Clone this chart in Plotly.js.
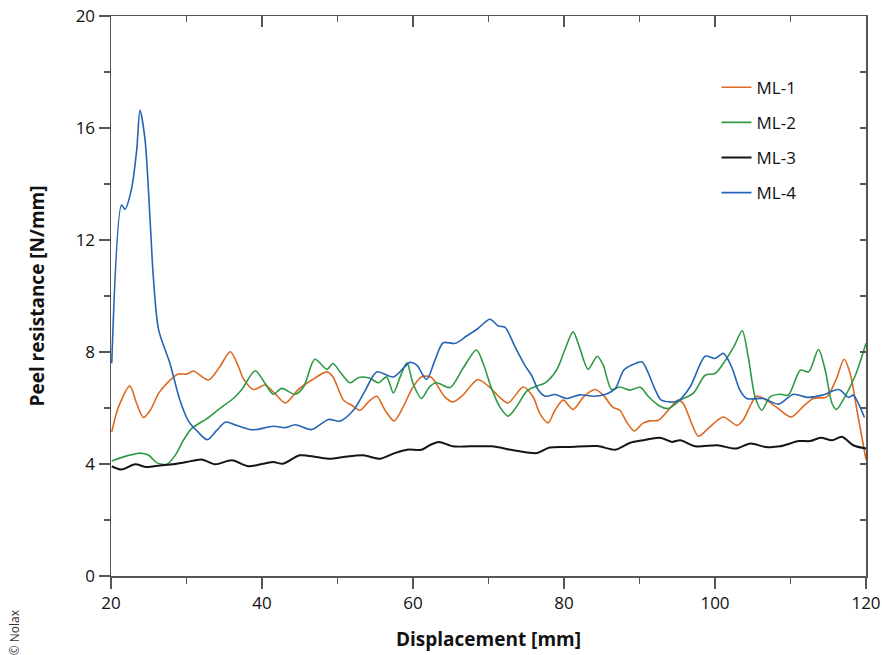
<!DOCTYPE html>
<html>
<head>
<meta charset="utf-8">
<script src="https://cdn.plot.ly/plotly-3.0.1.min.js"></script>
<style>html,body{margin:0;padding:0;background:#fff}#chart{width:882px;height:655px}</style>
</head>
<body>
<div id="chart"></div>
<script>
const ml1_x = [20.1,21.0,22.5,23.4,24.3,25.2,26.3,27.4,28.9,30.0,30.9,32.9,34.4,35.8,36.9,37.5,38.9,40.4,41.7,43.1,44.8,46.6,48.6,49.4,50.8,51.9,53.0,54.1,55.2,56.3,57.5,58.7,60.0,61.1,62.4,64.2,65.3,66.6,68.6,70.2,71.5,72.6,74.6,75.9,76.8,77.9,78.8,79.9,81.2,82.6,84.1,85.2,86.5,87.4,88.3,89.3,90.5,91.4,92.5,93.8,95.1,95.8,96.9,97.8,99.3,101.1,102.9,103.7,105.5,106.8,108.1,110.1,111.7,113.0,114.8,116.1,117.1,117.9,118.8,120];
const ml1_y = [5.15,6.04,6.78,6.16,5.66,5.92,6.52,6.88,7.21,7.21,7.32,7.0,7.47,8.01,7.47,7.06,6.66,6.82,6.52,6.18,6.66,7.0,7.29,7.11,6.28,6.1,5.92,6.22,6.42,5.92,5.54,6.04,6.75,7.11,7.10,6.4,6.22,6.46,7.02,6.73,6.38,6.18,6.75,6.4,5.8,5.47,5.92,6.28,5.95,6.4,6.66,6.46,6.02,5.92,5.5,5.18,5.47,5.54,5.56,5.92,6.28,6.16,5.45,4.99,5.32,5.68,5.38,5.56,6.42,6.28,6.04,5.68,6.06,6.34,6.4,7.06,7.74,7.23,5.92,4.16];

const ml2_x = [20.1,22.1,23.9,25.0,26.1,27.4,28.5,29.6,30.7,32.7,34.4,36.2,37.3,39.1,40.4,41.5,42.6,44.4,45.5,47.0,48.6,49.4,50.5,51.7,52.8,54.3,55.4,56.5,57.4,58.3,59.2,60.0,61.1,62.2,63.1,64.9,66.6,68.4,69.3,70.4,71.5,72.6,73.7,75.1,76.4,77.5,79.0,80.1,81.2,82.1,83.2,84.4,85.2,86.3,87.4,88.7,90.1,91.2,92.5,93.8,95.4,97.1,98.7,100.0,101.1,102.5,103.6,104.4,105.3,106.2,107.3,108.6,109.7,111.3,112.4,113.7,114.6,115.5,116.1,117.2,118.6,120];
const ml2_y = [4.11,4.29,4.39,4.31,4.04,3.99,4.31,4.85,5.27,5.62,5.98,6.34,6.65,7.33,6.88,6.49,6.7,6.49,6.75,7.74,7.38,7.59,7.23,6.9,7.09,7.06,6.9,7.11,6.54,7.11,7.61,6.88,6.34,6.76,6.9,6.73,7.41,8.07,7.59,6.7,6.04,5.71,6.04,6.61,6.78,6.9,7.35,8.07,8.72,8.13,7.38,7.85,7.53,6.66,6.75,6.64,6.74,6.4,6.1,5.98,6.28,6.52,7.17,7.23,7.59,8.19,8.76,7.83,6.4,5.92,6.4,6.49,6.46,7.35,7.29,8.09,7.35,6.16,5.95,6.4,7.17,8.31];

const ml3_x = [20.1,21.4,23.2,24.7,26.5,28.2,30.0,32.0,33.8,36.0,38.2,40.2,41.5,42.8,45.0,47.2,49.0,50.8,53.4,55.6,57.4,59.2,61.1,62.2,63.4,65.3,67.6,70.4,73.7,76.4,78.1,80.8,84.4,86.8,88.7,90.5,92.7,94.3,95.4,97.4,100.3,102.7,104.7,106.7,108.6,111.1,112.6,114.0,115.5,116.8,118.3,120];
const ml3_y = [3.92,3.8,3.99,3.89,3.95,3.99,4.07,4.16,3.99,4.13,3.92,4.01,4.07,4.01,4.31,4.25,4.19,4.25,4.31,4.19,4.37,4.51,4.51,4.67,4.79,4.63,4.63,4.63,4.47,4.39,4.59,4.61,4.64,4.51,4.75,4.85,4.94,4.79,4.85,4.63,4.67,4.55,4.73,4.61,4.63,4.82,4.82,4.94,4.85,4.97,4.67,4.55];

const ml4_x = [20.1,21.4,21.85,22.7,23.4,23.84,24.5,25.2,25.6,26.3,27.8,29.1,30.2,31.5,32.75,34.0,35.2,36.6,38.4,39.3,41.5,43.1,44.4,46.6,48.8,50.3,52.1,53.7,55.2,57.4,59.6,60.5,61.8,62.9,64.0,65.6,67.1,68.6,70.2,71.3,72.2,73.5,74.8,75.7,76.6,77.5,78.8,80.4,82.1,83.9,85.4,86.8,87.9,89.2,90.3,91.0,92.1,92.9,95.1,96.7,98.7,100.0,101.1,102.2,103.3,104.2,106.4,108.4,110.4,112.2,114.2,116.4,117.7,118.3,119.0,119.8];
const ml4_y = [7.6,13.25,13.1,13.8,15.2,16.63,15.6,12.6,10.7,8.8,7.6,6.3,5.56,5.15,4.87,5.2,5.5,5.38,5.23,5.23,5.35,5.3,5.4,5.23,5.59,5.53,5.92,6.64,7.29,7.11,7.63,7.53,7.02,7.7,8.33,8.31,8.57,8.84,9.17,8.93,8.88,8.19,7.53,7.17,6.64,6.42,6.48,6.34,6.47,6.42,6.48,6.7,7.35,7.56,7.65,7.35,6.64,6.28,6.25,6.75,7.85,7.77,7.95,7.47,6.64,6.34,6.34,6.14,6.49,6.38,6.46,6.66,6.38,6.46,6.16,5.66];

const seriesNames = ['ML-1','ML-2','ML-3','ML-4'];
const xTickVals = [20,40,60,80,100,120];
const yTickVals = [0,4,8,12,16,20];

const colors = ['#dd6a22','#2e9a45','#151515','#2563b5'];
const widths = [1.6,1.6,2.0,1.6];
const xs = [ml1_x, ml2_x, ml3_x, ml4_x];
const ys = [ml1_y, ml2_y, ml3_y, ml4_y];

const traces = seriesNames.map((n,i)=>({
  type:'scatter', mode:'lines', name:n, x:xs[i], y:ys[i],
  line:{color:colors[i], width:widths[i], shape:'spline', smoothing:0.8},
  legendgroup:'g'+i
}));
traces.push({type:'scatter', mode:'lines', x:[], y:[], xaxis:'x2', yaxis:'y2', showlegend:false, hoverinfo:'skip'});

const axColor = '#555555';
const fontFam = '"Open Sans", "Noto Sans", sans-serif';

const layout = {
  width:882, height:655,
  margin:{l:111, r:16, t:16, b:79},
  paper_bgcolor:'#ffffff', plot_bgcolor:'#ffffff',
  font:{family:fontFam, size:17, color:'#111'},
  showlegend:true,
  legend:{x:0.802, y:0.904, xanchor:'left', yanchor:'top', bgcolor:'rgba(0,0,0,0)',
          font:{family:fontFam, size:17, color:'#111'}, tracegroupgap:10, itemwidth:30},
  xaxis:{range:[20,120], tickvals:xTickVals, ticks:'outside', ticklen:11, tickwidth:1.3, tickcolor:axColor,
         showline:true, linecolor:axColor, linewidth:1.5, showgrid:false, zeroline:false,
         minor:{dtick:10, ticks:'outside', ticklen:6, tickwidth:1.3, tickcolor:axColor, showgrid:false},
         tickfont:{size:17, color:'#111'},
         title:{text:'<b>Displacement [mm]</b>', font:{size:19, color:'#111'}, standoff:20}},
  yaxis:{range:[0,20], tickvals:yTickVals, ticks:'outside', ticklen:11, tickwidth:1.3, tickcolor:axColor,
         showline:true, linecolor:axColor, linewidth:1.5, showgrid:false, zeroline:false,
         minor:{dtick:2, ticks:'outside', ticklen:6, tickwidth:1.3, tickcolor:axColor, showgrid:false},
         tickfont:{size:17, color:'#111'},
         title:{text:'<b>Peel resistance [N/mm]</b>', font:{size:19, color:'#111'}, standoff:26}},
  xaxis2:{range:[20,120], overlaying:'x', side:'top', tickvals:xTickVals, ticks:'inside', ticklen:11, tickwidth:1.3, tickcolor:axColor,
          showticklabels:false, showline:true, linecolor:axColor, linewidth:1.5, showgrid:false, zeroline:false,
          minor:{dtick:10, ticks:'inside', ticklen:6, tickwidth:1.3, tickcolor:axColor, showgrid:false}},
  yaxis2:{range:[0,20], overlaying:'y', side:'right', tickvals:yTickVals, ticks:'inside', ticklen:6, tickwidth:1.3, tickcolor:axColor,
          showticklabels:false, showline:true, linecolor:axColor, linewidth:1.5, showgrid:false, zeroline:false,
          minor:{dtick:2, ticks:'inside', ticklen:6, tickwidth:1.3, tickcolor:axColor, showgrid:false}},
  annotations:[{text:'© Nolax', xref:'paper', yref:'paper', x:-0.128, y:-0.1, xanchor:'center', yanchor:'middle',
                textangle:-90, showarrow:false, font:{family:fontFam, size:12, color:'#333'}}]
};

Plotly.newPlot('chart', traces, layout, {displayModeBar:false, staticPlot:true});
</script>
</body>
</html>
